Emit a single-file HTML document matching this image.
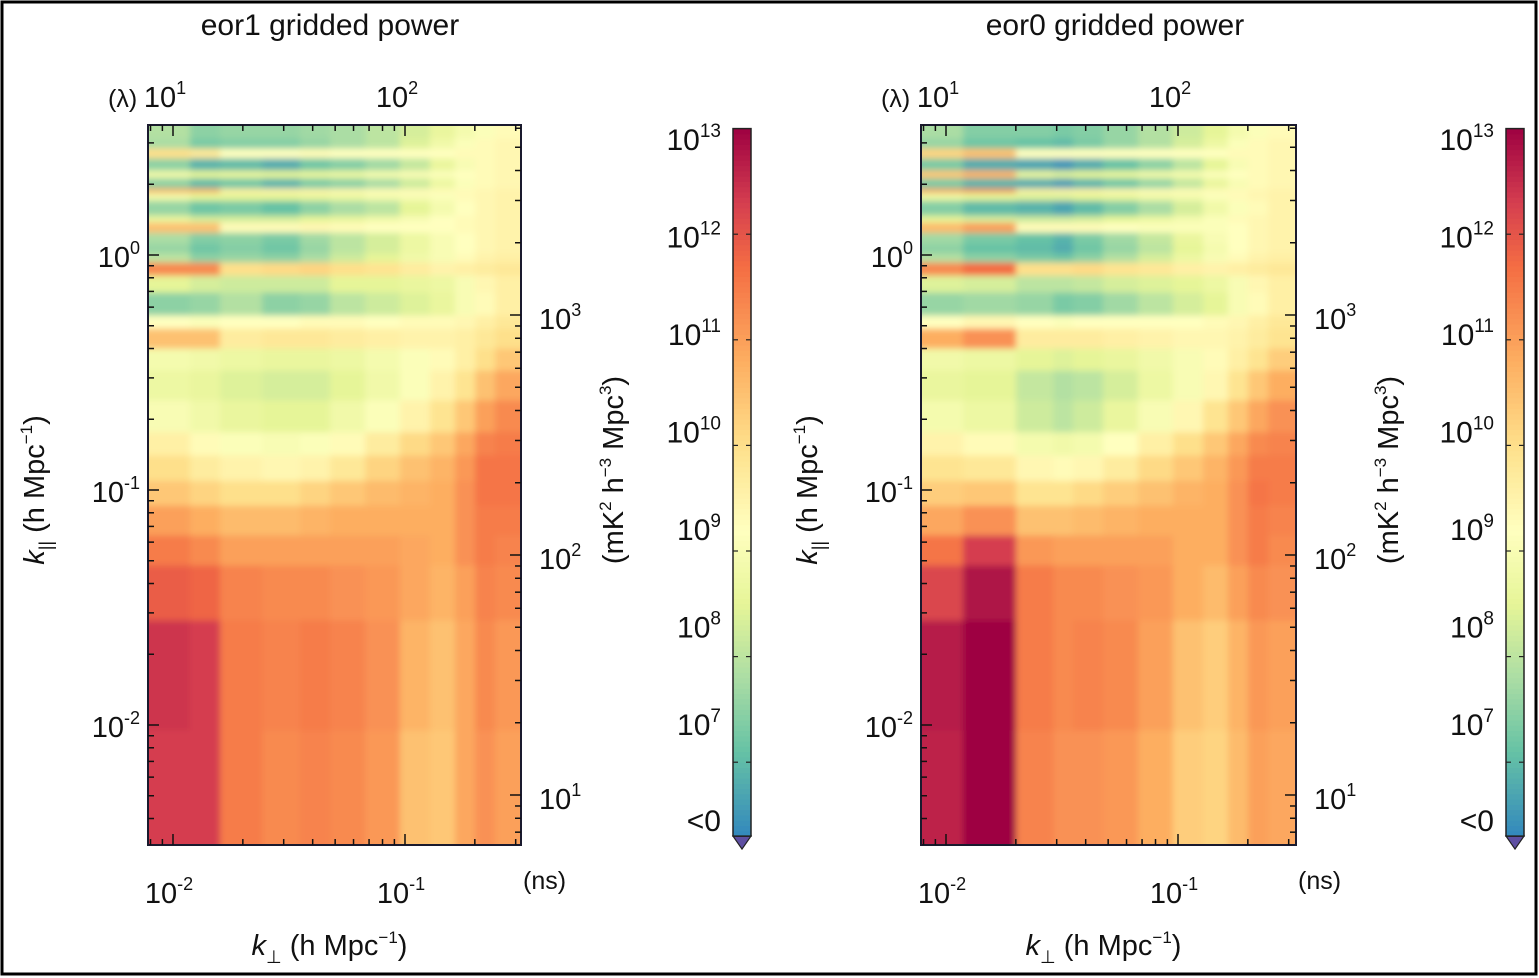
<!DOCTYPE html>
<html><head><meta charset="utf-8"><style>
html,body{margin:0;padding:0;background:#fff;}
svg{display:block;font-family:"Liberation Sans",sans-serif;}
</style></head><body>
<svg id="chart" width="1539" height="978" viewBox="0 0 1539 978" xmlns="http://www.w3.org/2000/svg">
<defs>
<filter id="blur" x="-5%" y="-5%" width="110%" height="110%"><feGaussianBlur stdDeviation="3.2"/></filter>
<clipPath id="clipL"><rect x="148" y="125" width="373" height="720"/></clipPath>
<clipPath id="clipR"><rect x="921" y="125" width="375" height="720"/></clipPath>
</defs>
<rect x="2" y="2" width="1534" height="972" fill="#fff" stroke="#000" stroke-width="3"/>
<g id="root"></g>
</svg>
<script>
// ---- data ----
const kparEdges = [0.00308,0.00953,0.0280,0.0480,0.0644,0.0863,0.110,0.141,0.177,0.242,0.324,0.402,0.489,0.556,0.696,0.822,0.934,1.02,1.12,1.25,1.38,1.48,1.71,1.85,1.93,2.13,2.30,2.59,2.85,3.15,3.57];
const kperpEdgesEor1 = [0.00780,0.01184,0.01595,0.02422,0.03528,0.04750,0.0673,0.0951,0.1282,0.1643,0.2006,0.2445,0.3162];
const kperpEdgesEor0 = [0.00780,0.01184,0.02004,0.0290,0.0353,0.0475,0.0673,0.0951,0.1282,0.1643,0.2006,0.2445,0.3162];
const powerEor1 = [
[12.3,12.3,11.5,11.3,11.4,11.3,11.1,10.5,10.4,10.9,11.2,11.0],
[12.4,12.3,11.5,11.4,11.5,11.4,11.2,10.7,10.5,10.9,11.3,11.1],
[11.9,11.8,11.4,11.3,11.3,11.2,11.1,10.9,10.7,11.0,11.4,11.3],
[11.5,11.3,11.0,11.0,11.0,11.0,11.0,10.9,10.8,11.2,11.5,11.4],
[11.0,10.8,10.6,10.6,10.7,10.8,10.8,10.8,10.8,11.2,11.5,11.5],
[10.4,10.2,10.0,10.0,10.2,10.4,10.6,10.7,10.8,11.2,11.6,11.6],
[10.0,9.7,9.5,9.4,9.5,9.8,10.2,10.5,10.7,11.1,11.6,11.6],
[9.6,9.3,9.1,9.0,9.1,9.3,9.7,10.1,10.4,10.9,11.4,11.5],
[9.0,8.8,8.6,8.5,8.5,8.8,9.1,9.5,9.9,10.4,11.0,11.3],
[8.7,8.6,8.4,8.3,8.3,8.5,8.8,9.1,9.5,9.9,10.5,10.9],
[8.9,8.8,8.7,8.6,8.6,8.7,8.9,9.1,9.3,9.6,10.0,10.4],
[10.5,10.5,9.7,9.8,9.8,9.7,9.6,9.5,9.5,9.6,9.8,10.0],
[9.2,9.1,9.2,9.2,9.3,9.3,9.2,9.3,9.3,9.4,9.6,9.8],
[7.5,7.6,7.9,7.5,7.6,8.0,8.2,8.4,8.6,9.0,9.3,9.6],
[8.5,8.3,8.2,8.2,8.2,8.5,8.5,8.6,8.7,9.0,9.4,9.6],
[11.3,11.3,10.0,10.1,10.2,10.0,9.9,9.7,9.5,9.6,9.7,9.8],
[8.0,7.5,7.6,7.5,7.8,8.2,8.5,8.8,9.0,9.3,9.5,9.6],
[7.6,7.2,7.4,7.2,7.6,8.0,8.3,8.7,9.0,9.2,9.4,9.5],
[7.8,7.4,7.5,7.3,7.7,8.0,8.3,8.7,9.0,9.2,9.4,9.5],
[10.5,10.5,9.3,9.3,9.4,9.3,9.2,9.2,9.2,9.3,9.4,9.5],
[8.6,8.3,8.3,8.3,8.5,8.6,8.8,9.0,9.2,9.3,9.4,9.5],
[7.6,7.2,7.3,7.1,7.5,7.8,8.0,8.5,8.9,9.2,9.4,9.5],
[8.8,8.5,8.5,8.5,8.6,8.7,8.9,9.0,9.1,9.3,9.4,9.5],
[10.8,10.8,9.6,9.5,9.5,9.4,9.3,9.3,9.3,9.3,9.4,9.5],
[7.5,7.0,7.2,6.9,7.3,7.5,7.8,8.2,8.7,9.1,9.3,9.4],
[8.8,8.5,8.6,8.5,8.6,8.7,8.9,9.0,9.1,9.2,9.3,9.4],
[7.5,6.9,7.0,6.8,7.2,7.4,7.7,8.1,8.6,9.0,9.3,9.4],
[10.0,9.8,9.2,9.2,9.3,9.2,9.2,9.2,9.2,9.3,9.3,9.4],
[7.8,7.3,7.4,7.4,7.6,7.8,8.0,8.4,8.8,9.1,9.3,9.4],
[7.9,7.5,7.6,7.6,7.7,7.8,8.0,8.3,8.6,8.9,9.1,9.3]
];
const powerEor0 = [
[12.6,13.0,11.4,11.2,11.2,11.1,10.8,10.3,10.2,10.6,11.0,10.9],
[12.7,13.0,11.5,11.3,11.4,11.3,11.0,10.5,10.3,10.7,11.1,11.0],
[12.2,12.8,11.5,11.3,11.3,11.2,11.1,10.8,10.6,11.0,11.3,11.2],
[11.6,12.3,11.1,11.0,11.0,11.0,11.0,10.8,10.8,11.2,11.5,11.3],
[10.9,11.2,10.5,10.5,10.6,10.7,10.8,10.8,10.8,11.2,11.5,11.4],
[10.3,10.4,9.9,9.9,10.1,10.3,10.5,10.7,10.8,11.2,11.6,11.5],
[9.9,9.8,9.4,9.3,9.4,9.7,10.1,10.4,10.7,11.1,11.5,11.5],
[9.5,9.3,8.9,8.8,8.9,9.2,9.6,10.0,10.4,10.9,11.3,11.4],
[8.9,8.7,8.2,8.0,8.2,8.6,9.0,9.4,9.9,10.4,10.9,11.2],
[8.6,8.5,8.1,7.9,8.0,8.3,8.7,9.0,9.4,9.9,10.4,10.8],
[8.8,8.7,8.5,8.4,8.5,8.6,8.8,9.0,9.3,9.6,9.9,10.3],
[10.8,11.2,9.7,9.7,9.7,9.6,9.5,9.4,9.4,9.5,9.7,9.9],
[9.2,9.4,9.2,9.1,9.2,9.2,9.2,9.2,9.3,9.4,9.6,9.8],
[7.6,7.7,7.6,7.3,7.4,7.7,8.0,8.3,8.5,9.0,9.3,9.6],
[8.4,8.3,8.0,8.0,8.1,8.3,8.4,8.5,8.7,9.0,9.4,9.6],
[11.3,11.7,10.0,10.0,10.1,9.9,9.8,9.6,9.5,9.6,9.7,9.8],
[7.9,7.5,7.3,7.2,7.5,7.9,8.3,8.7,9.0,9.3,9.5,9.6],
[7.5,7.1,7.0,6.8,7.2,7.6,8.0,8.5,8.9,9.2,9.4,9.5],
[7.7,7.3,7.1,6.9,7.3,7.7,8.1,8.6,9.0,9.2,9.4,9.5],
[10.6,11.0,9.3,9.3,9.3,9.2,9.1,9.1,9.1,9.2,9.4,9.5],
[8.5,8.3,8.2,8.2,8.3,8.5,8.7,8.9,9.1,9.3,9.4,9.5],
[7.4,7.0,6.9,6.7,7.0,7.4,7.8,8.3,8.8,9.1,9.3,9.5],
[8.7,8.5,8.4,8.4,8.5,8.6,8.8,8.9,9.1,9.3,9.4,9.5],
[11.0,11.3,9.6,9.5,9.5,9.4,9.3,9.3,9.3,9.3,9.4,9.5],
[7.3,6.9,6.8,6.6,6.9,7.2,7.6,8.1,8.6,9.0,9.3,9.4],
[10.4,10.7,8.6,8.4,8.5,8.6,8.8,8.9,9.1,9.2,9.3,9.4],
[7.3,6.8,6.7,6.5,6.8,7.1,7.5,8.0,8.5,9.0,9.3,9.4],
[10.2,10.5,9.2,9.2,9.2,9.2,9.2,9.2,9.2,9.3,9.3,9.4],
[7.6,7.2,7.1,7.0,7.3,7.6,7.9,8.3,8.7,9.1,9.3,9.4],
[7.8,7.4,7.4,7.3,7.4,7.6,7.9,8.2,8.5,8.9,9.1,9.3]
];
const cbTicks = [7,8,9,10,11,12,13];
const kparTicks = [0.01,0.1,1];
const kperpTicks = [0.01,0.1];
const lambdaTicks = [10,100];
const nsTicks = [10,100,1000];

// ---- helpers ----
const NS='http://www.w3.org/2000/svg';
const root=document.getElementById('root');
function mk(tag,attrs,parent){const e=document.createElementNS(NS,tag);for(const k in attrs)e.setAttribute(k,attrs[k]);(parent||root).appendChild(e);return e;}
const stops=[[6.3,[50,136,189]],[7.1,[102,194,165]],[7.8,[171,221,164]],[8.5,[230,245,152]],[9.2,[255,255,191]],[10.0,[254,224,139]],[10.8,[253,174,97]],[11.7,[244,109,67]],[12.3,[213,62,79]],[13.0,[158,1,66]]];
function color(v){
  if(v<=stops[0][0])return 'rgb('+stops[0][1].join(',')+')';
  for(let i=1;i<stops.length;i++){if(v<=stops[i][0]){const a=stops[i-1],b=stops[i],t=(v-a[0])/(b[0]-a[0]);return 'rgb('+[0,1,2].map(j=>Math.round(a[1][j]+t*(b[1][j]-a[1][j]))).join(',')+')';}}
  return 'rgb('+stops[stops.length-1][1].join(',')+')';
}
const yK=k=>255-Math.log10(k)*235;
const yNs=t=>315-(Math.log10(t)-3)*240;
const cbY=v=>551-(v-9)*105.6;
const cbLabY=v=>540-(v-9)*97.5;
function sup(x,y,base,exp,anchor,size,name){
  const t=mk('text',{x:x,y:y,'font-size':size,'text-anchor':anchor,fill:'#111'});
  
  
  const a=mk('tspan',{},t);a.textContent=base;
  if(exp!==null){const b=mk('tspan',{dy:-13,'font-size':Math.round(size*0.62)},t);b.textContent=exp;}
  return t;
}

function panel(opt){
  const xK=k=>opt.x10m2+(Math.log10(k)+2)*232;
  const X0=opt.x0,X1=opt.x1,Y0=125,Y1=845;
  const g=mk('g',{'clip-path':'url(#'+opt.clip+')'});
  
  
  const gb=mk('g',{filter:'url(#blur)'},g);
  const E=opt.kperp, P=opt.power, nr=P.length, nc=E.length-1;
  for(let r=0;r<nr;r++){for(let c=0;c<nc;c++){
    let xa=xK(E[c]),xb=xK(E[c+1]),ya=yK(kparEdges[r+1]),yb=yK(kparEdges[r]);
    if(c===0)xa-=14; if(c===nc-1)xb+=14; if(r===0)yb+=14; if(r===nr-1)ya-=14;
    const cell=mk('rect',{x:xa,y:ya,width:xb-xa+0.6,height:yb-ya+0.6,fill:color(P[r][c])},gb);
    
    
  }}
  const fr=mk('rect',{x:X0,y:Y0,width:X1-X0,height:Y1-Y0,fill:'none',stroke:'#1a1a2e','stroke-width':2});
  
  
  for(let d=-3;d<=0;d++)for(let m=1;m<10;m++){const k=m*Math.pow(10,d);const x=xK(k);if(x<X0+1||x>X1-1)continue;const L=m===1?11:6;
    mk('line',{x1:x,y1:Y1,x2:x,y2:Y1-L,stroke:'#111','stroke-width':1.5});
    mk('line',{x1:x,y1:Y0,x2:x,y2:Y0+L,stroke:'#111','stroke-width':1.5});}
  for(let d=-3;d<=0;d++)for(let m=1;m<10;m++){const k=m*Math.pow(10,d);const y=yK(k);if(y<Y0+1||y>Y1-1)continue;const L=m===1?11:6;
    mk('line',{x1:X0,y1:y,x2:X0+L,y2:y,stroke:'#111','stroke-width':1.5});}
  for(let d=0;d<=3;d++)for(let m=1;m<10;m++){const t=m*Math.pow(10,d);const y=yNs(t);if(y<Y0+1||y>Y1-1)continue;const L=m===1?11:6;
    mk('line',{x1:X1,y1:y,x2:X1-L,y2:y,stroke:'#111','stroke-width':1.5});}
  const expL={0.01:'-2',0.1:'-1',1:'0'};
  kparTicks.forEach(k=>sup(X0-8,yK(k)+12,'10',expL[k],'end',29,opt.id+'-y-tick-label'));
  kperpTicks.forEach(k=>sup(xK(k)-4,Y1+58,'10',expL[k],'middle',29,opt.id+'-x-tick-label'));
  const expN={10:'1',100:'2',1000:'3'};
  nsTicks.forEach(t=>sup(X1+18,yNs(t)+14,'10',expN[t],'start',29,opt.id+'-right-tick-label'));
  lambdaTicks.forEach(t=>sup(xK(t/1000)-8,Y0-18,'10',expN[t],'middle',29,opt.id+'-top-tick-label'));
  sup(X0-40,Y0-18,'(λ)',null,'start',25,opt.id+'-lambda-unit');
  sup(X1+2,Y1+44,'(ns)',null,'start',25,opt.id+'-ns-unit');
  const ti=mk('text',{x:opt.titleX,y:35,'font-size':30,'text-anchor':'middle',fill:'#111'});
  
  
  ti.textContent=opt.title;
  const xt=mk('text',{x:(X0+X1)/2-5,y:955,'font-size':29,'text-anchor':'middle',fill:'#111'});
  
  
  xt.innerHTML='<tspan font-style="italic">k</tspan><tspan font-size="18" dy="8">⊥</tspan><tspan dy="-8"> (h Mpc</tspan><tspan font-size="17" dy="-12">−1</tspan><tspan dy="12">)</tspan>';
  const yt=mk('text',{x:0,y:0,'font-size':29,'text-anchor':'middle',fill:'#111',transform:'translate('+(X0-104)+',490) rotate(-90)'});
  
  
  yt.innerHTML='<tspan font-style="italic">k</tspan><tspan font-size="18" dy="8">||</tspan><tspan dy="-8"> (h Mpc</tspan><tspan font-size="17" dy="-12">−1</tspan><tspan dy="12">)</tspan>';
  const rt=mk('text',{x:0,y:0,'font-size':29,'text-anchor':'middle',fill:'#111',transform:'translate('+(X1+102)+',470) rotate(-90)'});
  
  
  rt.innerHTML='(mK<tspan font-size="17" dy="-12">2</tspan><tspan dy="12"> h</tspan><tspan font-size="17" dy="-12">−3</tspan><tspan dy="12"> Mpc</tspan><tspan font-size="17" dy="-12">3</tspan><tspan dy="12">)</tspan>';
  const cx=opt.cbx, cw=18, cg=mk('g',{});
  
  
  const top=cbY(13), bot=cbY(6.3);
  for(let v=6.3;v<13;v+=0.05){const ya=cbY(Math.min(v+0.05,13)),yb=cbY(v);mk('rect',{x:cx,y:ya,width:cw,height:yb-ya+0.5,fill:color(v+0.025)},cg);}
  mk('polygon',{points:cx+','+bot+' '+(cx+cw)+','+bot+' '+(cx+cw/2)+','+(bot+13),fill:'#5e4fa2',stroke:'#222','stroke-width':1.2},cg);
  mk('rect',{x:cx,y:top,width:cw,height:bot-top,fill:'none',stroke:'#222','stroke-width':1.5},cg);
  const ce={7:'7',8:'8',9:'9',10:'10',11:'11',12:'12',13:'13'};
  cbTicks.forEach(v=>{const y=cbY(v);if(v<13){mk('line',{x1:cx,y1:y,x2:cx+5,y2:y,stroke:'#222','stroke-width':1.2},cg);mk('line',{x1:cx+cw,y1:y,x2:cx+cw-5,y2:y,stroke:'#222','stroke-width':1.2},cg);}
    sup(cx-12,cbLabY(v),'10',ce[v],'end',30,opt.id+'-colorbar-tick-label');});
  sup(cx-12,831,'<0',null,'end',30,opt.id+'-colorbar-below-zero-label');
}
panel({id:'eor1',x0:148,x1:521,x10m2:173,kperp:kperpEdgesEor1,power:powerEor1,clip:'clipL',cbx:733,title:'eor1 gridded power',titleX:330});
panel({id:'eor0',x0:921,x1:1296,x10m2:946,kperp:kperpEdgesEor0,power:powerEor0,clip:'clipR',cbx:1506,title:'eor0 gridded power',titleX:1115});
</script>
</body></html>
